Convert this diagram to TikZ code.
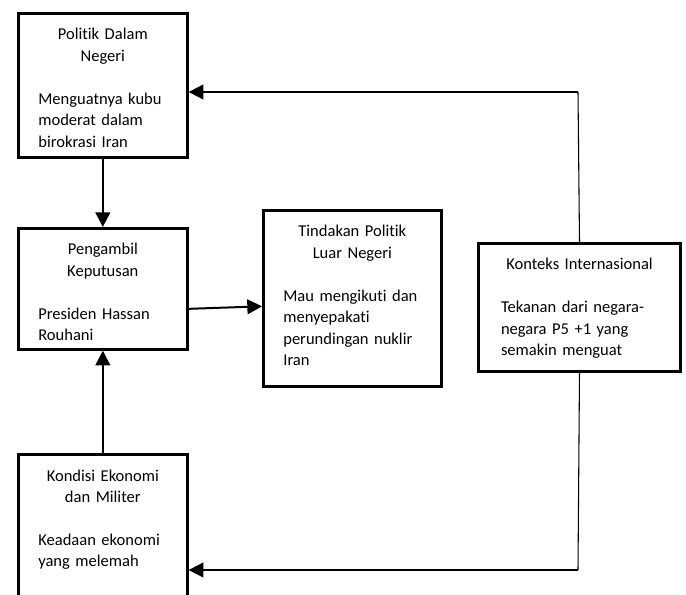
\documentclass[tikz,border=0pt]{standalone}
\usepackage{fontspec}
\setmainfont{Carlito}[Ligatures=NoCommon]
\usetikzlibrary{arrows.meta, positioning, calc}

\begin{document}
\begin{tikzpicture}[x=0.75pt, y=-0.75pt,
        box/.style={rectangle, draw=black, line width=2pt, fill=white, anchor=north west, inner xsep=15pt, inner ysep=0pt, text height=20pt, font=\fontsize{12.4}{16.1}\selectfont},
        arrow/.style={-{Triangle[length=11pt, width=11pt]}, line width=1.5pt, black},
        link/.style={line width=0.8pt, black}
    ]
        \path[use as bounding box, fill=white] (0,0) rectangle (686,595);

        \node[box, text width=96.75pt, text depth=88pt] (politik) at (17,12) {{\centering Politik Dalam\\Negeri\par}\vspace{\baselineskip}\raggedright Menguatnya kubu\\moderat dalam\\birokrasi Iran};
        \node[box, text width=96.75pt, text depth=70.75pt] (pengambil) at (17,227) {{\centering Pengambil\\Keputusan\par}\vspace{\baselineskip}\raggedright Presiden Hassan\\Rouhani};
        \node[box, text width=96.75pt, text depth=160pt] (kondisi) at (17,453) {{\centering Kondisi Ekonomi\\dan Militer\par}\vspace{\baselineskip}\raggedright Keadaan ekonomi\\yang melemah};
        \node[box, text width=103.5pt, text depth=112pt] (tindakan) at (262,209) {{\centering Tindakan Politik\\Luar Negeri\par}\vspace{\baselineskip}\raggedright Mau mengikuti dan\\menyepakati\\perundingan nuklir\\Iran};
        \node[box, inner xsep=17pt, text width=117.75pt, text depth=76pt] (konteks) at (477,242) {{\centering Konteks Internasional\par}\vspace{\baselineskip}\raggedright Tekanan dari negara-\\negara P5 +1 yang\\semakin menguat};

        \coordinate (atas) at (578,92);
        \coordinate (bawah) at (578,570);

        \draw[arrow] (politik.south) -- (pengambil.north);
        \draw[arrow] (kondisi.north) -- (pengambil.south);
        \draw[arrow] ([yshift=-15pt]pengambil.east) -- ([yshift=-6pt]tindakan.west);
        \draw[link] (konteks.north) -- (atas);
        \draw[arrow] (atas) -- (politik.east |- atas);
        \draw[link] (konteks.south) -- (bawah);
        \draw[arrow] (bawah) -- (kondisi.east |- bawah);
    \end{tikzpicture}
\end{document}
